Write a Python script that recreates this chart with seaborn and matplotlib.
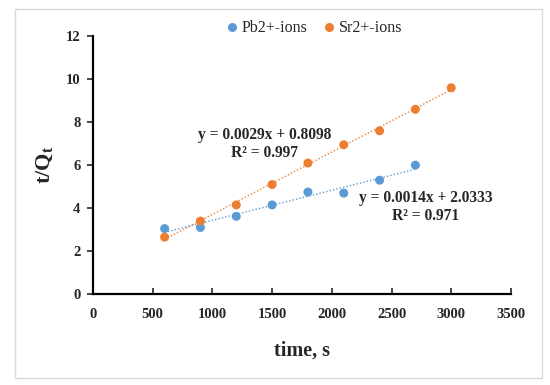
import numpy as np
import pandas as pd
import matplotlib
matplotlib.use('Agg')
from matplotlib import pyplot as plt
from matplotlib.patches import Rectangle
import seaborn as sns

# --
# Data

time_pb = [600, 900, 1200, 1500, 1800, 2100, 2400, 2700]
tq_pb = [3.05, 3.10, 3.62, 4.15, 4.75, 4.70, 5.30, 6.00]

time_sr = [600, 900, 1200, 1500, 1800, 2100, 2400, 2700, 3000]
tq_sr = [2.65, 3.40, 4.15, 5.10, 6.10, 6.95, 7.60, 8.60, 9.60]

series = ['Pb2+-ions', 'Sr2+-ions']
slopes = [0.0014, 0.0029]
intercepts = [2.0333, 0.8098]
r2 = [0.971, 0.997]

colors = {'Pb2+-ions': '#5B9BD5', 'Sr2+-ions': '#ED7D31'}

df = pd.concat([
    pd.DataFrame({'time': time_pb, 'tq': tq_pb, 'ion': series[0]}),
    pd.DataFrame({'time': time_sr, 'tq': tq_sr, 'ion': series[1]}),
])

# trend lines over each series' range
trend = []
for name, xs, m, b in zip(series, [time_pb, time_sr], slopes, intercepts):
    xx = np.array([min(xs), max(xs)])
    trend.append(pd.DataFrame({'time': xx, 'tq': m * xx + b, 'ion': name}))
trend = pd.concat(trend)

# --
# Plot

sns.set_style('white')
plt.rcParams['font.family'] = ['Liberation Serif', 'DejaVu Serif']
plt.rcParams['mathtext.fontset'] = 'custom'
plt.rcParams['mathtext.rm'] = 'Liberation Serif'
plt.rcParams['mathtext.bf'] = 'Liberation Serif:bold'

fig = plt.figure(figsize=(5.5, 3.85), dpi=100)
ax = fig.add_axes([0.169, 0.236, 0.760, 0.670])

sns.lineplot(data=trend, x='time', y='tq', hue='ion', palette=colors,
             linestyle=(0, (1, 1.5)), linewidth=1.0, legend=False, ax=ax)
sns.scatterplot(data=df, x='time', y='tq', hue='ion', palette=colors,
                s=42, edgecolor='none', ax=ax, zorder=3)

ax.set_xlim(0, 3500)
ax.set_ylim(0, 12)
ax.set_xticks(np.arange(0, 3501, 500))
ax.set_yticks(np.arange(0, 13, 2))

for s in ['top', 'right']:
    ax.spines[s].set_visible(False)
for s in ['left', 'bottom']:
    ax.spines[s].set_color('black')
    ax.spines[s].set_linewidth(1.6)

ax.tick_params(axis='x', direction='in', length=4, width=1.2, labelsize=10.5, pad=10)
ax.tick_params(axis='y', direction='out', length=4, width=1.2, labelsize=10.5, pad=5)
ax.tick_params(left=True, bottom=True)
for lab in ax.get_xticklabels() + ax.get_yticklabels():
    lab.set_fontweight('bold')

ax.set_xlabel('time, s', fontsize=14.5, fontweight='bold', labelpad=14)
ax.set_ylabel('$\\mathbf{t/Q_t}$', fontsize=16, labelpad=8)

ax.legend(loc='center', bbox_to_anchor=(0.53, 1.031), ncol=2, frameon=False,
          fontsize=11.5, handlelength=0.7, handletextpad=0.25,
          columnspacing=1.0, markerscale=1.0)

ax.text(1440, 7.0, 'y = %.4fx + %.4f\nR² = %.3f' % (slopes[1], intercepts[1], r2[1]),
        ha='center', va='center', multialignment='center',
        fontsize=11.2, fontweight='bold', linespacing=1.15)
ax.text(2788, 4.05, 'y = %.4fx + %.4f\nR² = %.3f' % (slopes[0], intercepts[0], r2[0]),
        ha='center', va='center', multialignment='center',
        fontsize=11.2, fontweight='bold', linespacing=1.15)

fig.patches.append(Rectangle((15 / 550, 1 - 378 / 385), 527 / 550, 369 / 385,
                             transform=fig.transFigure, fill=False,
                             edgecolor='#d9d9d9', linewidth=1.0))

fig.savefig('out.png', dpi=100)
